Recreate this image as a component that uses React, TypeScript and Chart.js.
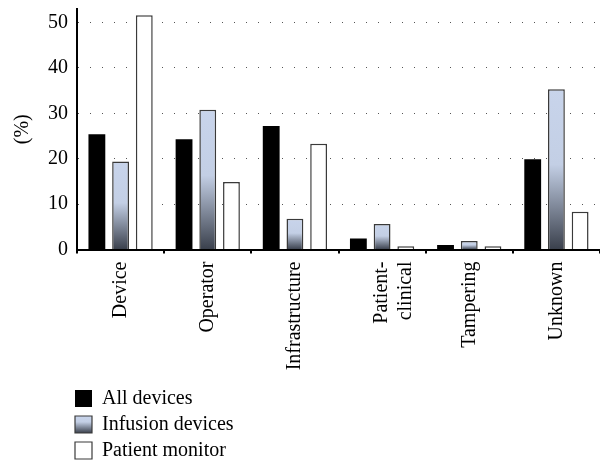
import React, { useEffect, useRef } from "react";
import { Chart, registerables } from "chart.js";

Chart.register(...registerables);

const CATEGORIES: (string | string[])[] = [
  "Device",
  "Operator",
  "Infrastructure",
  ["Patient-", "clinical"],
  "Tampering",
  "Unknown",
];
const SERIES_LABELS = ["All devices", "Infusion devices", "Patient monitor"];
const ALL_DEVICES = [25.4, 24.3, 27.2, 2.4, 1.0, 19.9];
const INFUSION_DEVICES = [19.4, 30.8, 6.8, 5.6, 1.9, 35.3];
const PATIENT_MONITOR = [51.6, 14.9, 23.3, 0.7, 0.7, 8.3];
const Y_TICKS = [0, 10, 20, 30, 40, 50];
const Y_MAX = 53;

const FONT = "'Liberation Serif', 'Times New Roman', serif";
const LIGHT_BLUE = "#c8d4eb";
const DARK_SLATE = "#3a404c";
const EDGE = "#3a3a3a";

const MAIN_H = 385;
const AXIS_Y = 249.5;

function barGradient(c: any) {
  const chart = c.chart;
  const y = chart.scales && chart.scales.y;
  const v = c.parsed ? c.parsed.y : undefined;
  if (!y || v === undefined || v === null || c.type !== "data") return LIGHT_BLUE;
  const top = y.getPixelForValue(v);
  const bottom = y.getPixelForValue(0);
  if (!isFinite(top) || !isFinite(bottom) || bottom - top < 1) return LIGHT_BLUE;
  const g = chart.ctx.createLinearGradient(0, top, 0, bottom);
  g.addColorStop(0, LIGHT_BLUE);
  g.addColorStop(0.47, "#c3cfe5");
  g.addColorStop(1, DARK_SLATE);
  return g;
}

export default function App() {
  const mainRef = useRef<HTMLCanvasElement>(null);
  const legendRef = useRef<HTMLCanvasElement>(null);

  useEffect(() => {
    if (!mainRef.current || !legendRef.current) return;

    const main = new Chart(mainRef.current, {
      type: "bar",
      data: {
        labels: CATEGORIES as any,
        datasets: [
          {
            label: SERIES_LABELS[0],
            data: ALL_DEVICES,
            backgroundColor: "#000",
            borderColor: "#000",
            borderWidth: 0,
          },
          {
            label: SERIES_LABELS[1],
            data: INFUSION_DEVICES,
            backgroundColor: barGradient as any,
            borderColor: EDGE,
            borderWidth: 1.5,
          },
          {
            label: SERIES_LABELS[2],
            data: PATIENT_MONITOR,
            backgroundColor: "#fff",
            borderColor: EDGE,
            borderWidth: 1.5,
          },
        ],
      },
      options: {
        responsive: false,
        animation: false,
        devicePixelRatio: 1,
        events: [],
        layout: { padding: { top: 9, right: -6, left: 0, bottom: 0 } },
        datasets: {
          bar: { categoryPercentage: 0.816, barPercentage: 0.71 },
        },
        plugins: {
          legend: { display: false },
          tooltip: { enabled: false },
        },
        scales: {
          x: {
            offset: true,
            grid: {
              display: true,
              drawOnChartArea: false,
              drawTicks: true,
              offset: true,
              tickLength: 4,
              color: "#000",
              lineWidth: 2,
            },
            border: { display: true, color: "#000", width: 2 },
            ticks: {
              autoSkip: false,
              maxRotation: 90,
              minRotation: 90,
              padding: 8,
              color: "#000",
              font: { family: FONT, size: 20 },
            },
            afterFit: (s: any) => {
              s.height = MAIN_H - AXIS_Y;
              s.paddingLeft = 0;
              s.paddingRight = 0;
            },
          },
          y: {
            min: 0,
            max: Y_MAX,
            ticks: {
              stepSize: 10,
              padding: 9,
              color: "#000",
              font: { family: FONT, size: 20 },
            },
            afterBuildTicks: (s: any) => {
              s.ticks = Y_TICKS.map((v) => ({ value: v }));
            },
            grid: {
              display: true,
              drawTicks: false,
              color: "#555",
              lineWidth: 1,
            },
            border: { display: true, color: "#000", width: 2, dash: [1, 11] },
            title: {
              display: true,
              text: "(%)",
              color: "#000",
              font: { family: FONT, size: 20 },
              padding: { top: 11, bottom: 0 },
            },
            afterFit: (s: any) => {
              s.width = 77;
              s.paddingTop = 0;
              s.paddingBottom = 0;
            },
          },
        },
      },
    });

    const LEG_PAD = 6;
    const LEG_TOP = 2.5;
    const legend = new Chart(legendRef.current, {
      type: "bar",
      data: {
        labels: [],
        datasets: [
          { label: SERIES_LABELS[0], data: [], backgroundColor: "#000", borderColor: "#000", borderWidth: 0 },
          { label: SERIES_LABELS[1], data: [], backgroundColor: LIGHT_BLUE, borderColor: EDGE, borderWidth: 1.2 },
          { label: SERIES_LABELS[2], data: [], backgroundColor: "#fff", borderColor: EDGE, borderWidth: 1.2 },
        ],
      },
      options: {
        responsive: false,
        animation: false,
        devicePixelRatio: 1,
        events: [],
        layout: { padding: { left: 69, top: LEG_TOP, right: 0, bottom: 0 } },
        scales: { x: { display: false }, y: { display: false } },
        plugins: {
          tooltip: { enabled: false },
          legend: {
            display: true,
            position: "left",
            align: "start",
            labels: {
              boxWidth: 17,
              boxHeight: 17,
              padding: LEG_PAD,
              color: "#000",
              font: { family: FONT, size: 20 },
              generateLabels: (chart: any) => {
                const items = Chart.defaults.plugins.legend.labels.generateLabels(chart);
                const top = LEG_TOP + LEG_PAD + 26 + 1.5;
                const g = chart.ctx.createLinearGradient(0, top, 0, top + 17);
                g.addColorStop(0, LIGHT_BLUE);
                g.addColorStop(0.35, "#c3cfe5");
                g.addColorStop(1, DARK_SLATE);
                if (items[1]) items[1].fillStyle = g;
                return items;
              },
            },
          },
        },
      },
    });

    return () => {
      main.destroy();
      legend.destroy();
    };
  }, []);

  return (
    <div
      style={{
        position: "fixed",
        left: 0,
        top: 0,
        width: 600,
        height: 461,
        overflow: "hidden",
        background: "#fff",
      }}
    >
      <canvas
        ref={mainRef}
        width={600}
        height={MAIN_H}
        style={{ position: "absolute", left: 0, top: 0, width: 600, height: MAIN_H }}
      />
      <canvas
        ref={legendRef}
        width={600}
        height={100}
        style={{ position: "absolute", left: 0, top: 380, width: 600, height: 100 }}
      />
    </div>
  );
}
